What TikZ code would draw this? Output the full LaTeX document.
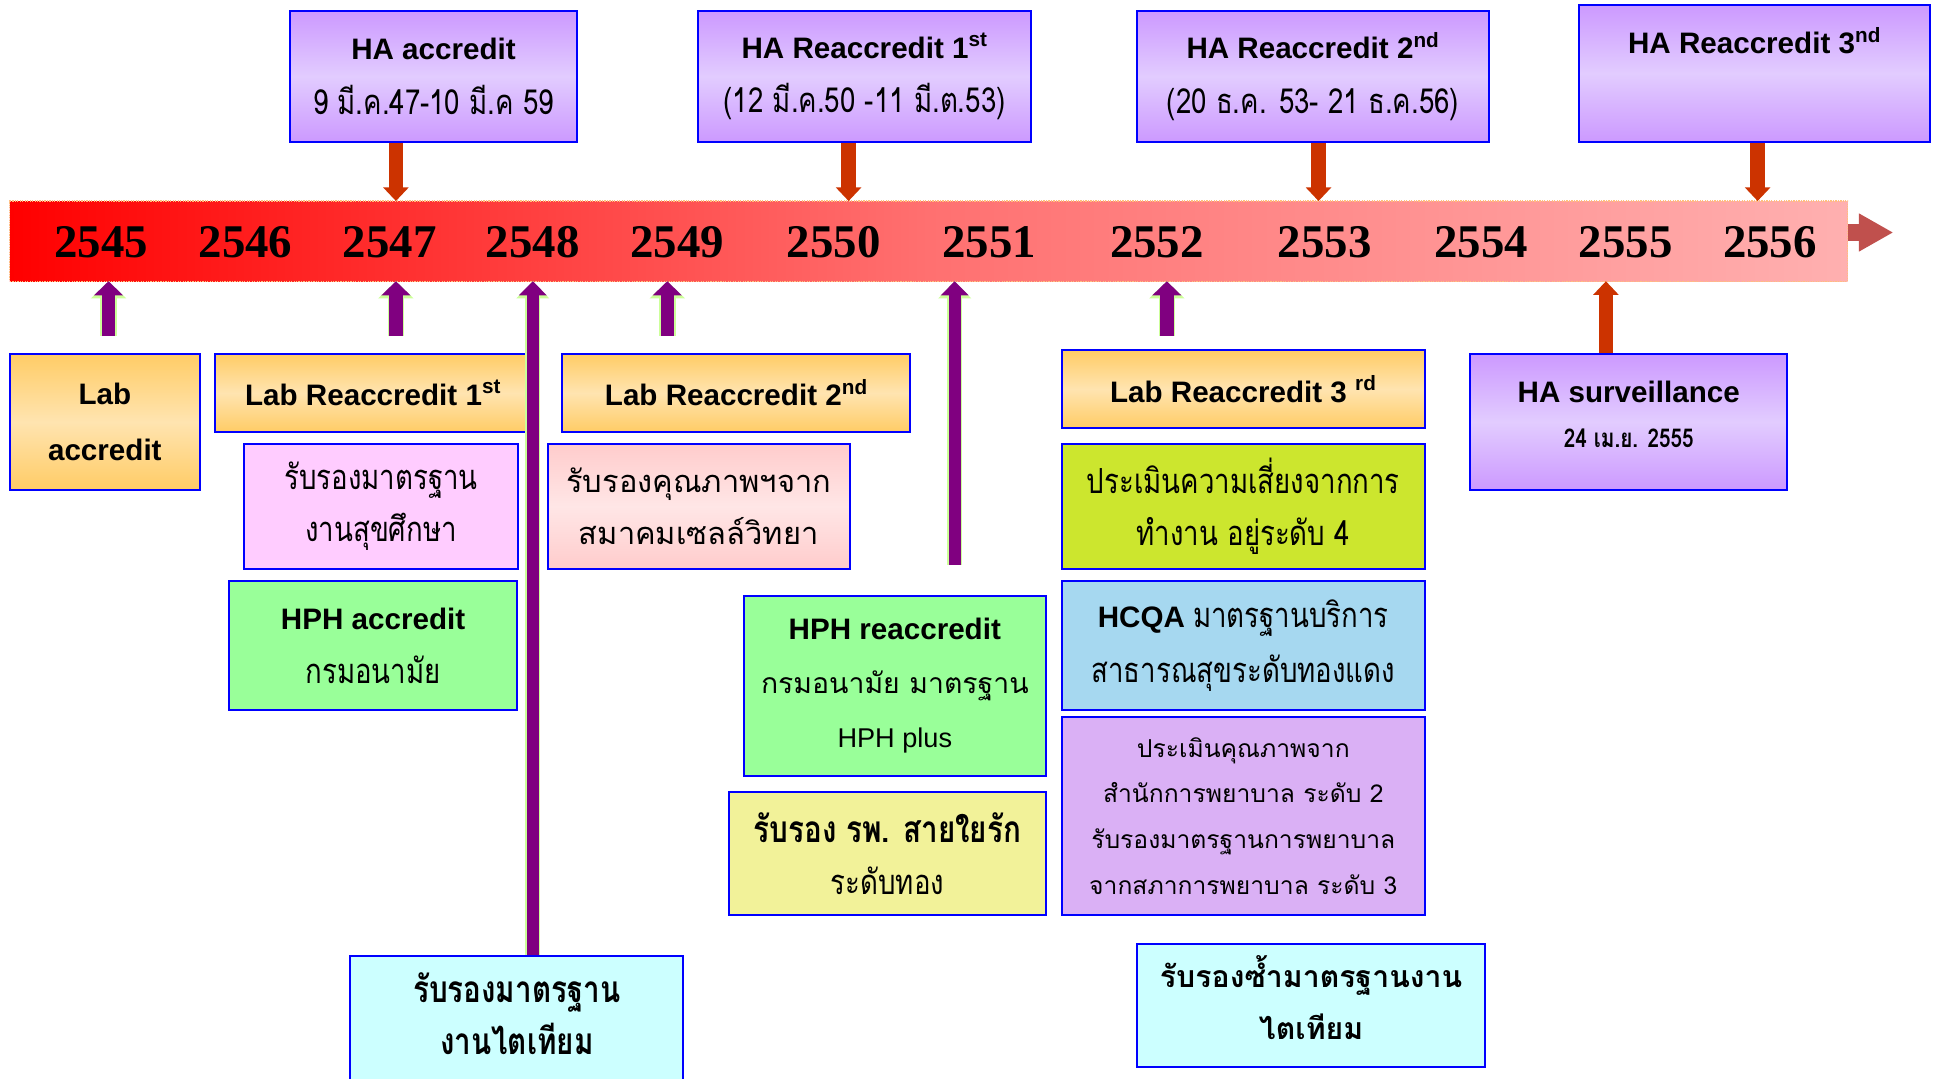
\documentclass[tikz,border=0pt]{standalone}
\usepackage{fontspec}
\setmainfont{Liberation Sans}
\newfontfamily\thaifont[Script=Thai,FakeStretch=0.8]{Loma}
\newfontfamily\thaiwide[Script=Thai]{Loma}
\newfontfamily\yearfont{Liberation Serif}
\usetikzlibrary{arrows.meta,shadings}

% colours of the slide
\definecolor{haviolet}{RGB}{204,153,255}
\definecolor{halight}{RGB}{226,204,255}
\definecolor{laborange}{RGB}{255,204,102}
\definecolor{lablight}{RGB}{255,228,176}
\definecolor{pinkedu}{RGB}{255,204,255}
\definecolor{pinkcell}{RGB}{255,204,204}
\definecolor{pinklight}{RGB}{255,230,230}
\definecolor{hphgreen}{RGB}{153,255,153}
\definecolor{kidneycyan}{RGB}{204,255,255}
\definecolor{goldyellow}{RGB}{242,242,153}
\definecolor{riskgreen}{RGB}{204,230,46}
\definecolor{hcqablue}{RGB}{166,216,240}
\definecolor{nurseviolet}{RGB}{218,176,245}
\definecolor{haarrow}{RGB}{204,51,0}
\definecolor{labarrow}{RGB}{128,0,128}
\definecolor{labedge}{RGB}{204,255,153}
\definecolor{barend}{RGB}{192,80,77}
\definecolor{barleft}{RGB}{255,0,0}
\definecolor{barmid}{RGB}{255,112,112}
\definecolor{barright}{RGB}{255,176,176}

% Thai text: narrow, narrow bold, wide
\newcommand\thn{\thaifont\fontsize{28}{42}\selectfont}
\newcommand\thb{\thaifont\bfseries\fontsize{30}{42}\selectfont}
\newcommand\thw{\thaiwide\fontsize{23}{42}\selectfont}

\begin{document}
\begin{tikzpicture}[x=1pt,y=-1pt,
  box/.style={draw=blue,line width=1.6pt,align=center,inner sep=0pt,
    font=\fontsize{24}{44}\selectfont},
  habox/.style={box,top color=haviolet,bottom color=haviolet,middle color=halight},
  labbox/.style={box,top color=laborange,bottom color=laborange,middle color=lablight},
  year/.style={font=\yearfont\bfseries\fontsize{38}{38}\selectfont},
  haarr/.style={draw=haarrow,line width=12pt,-{Triangle[width=20pt,length=11pt]}},
  labarr/.style={preaction={draw=labedge,line width=13.5pt,-{Triangle[width=28pt,length=14pt]}},
    draw=labarrow,line width=11pt,-{Triangle[width=23pt,length=11.5pt]}},
  labline/.style={preaction={draw=labedge,line width=12pt,-{Triangle[width=26pt,length=14pt]}},
    draw=labarrow,line width=10pt,-{Triangle[width=22pt,length=11.5pt]}},
  endarr/.style={draw=barend,line width=13pt,-{Triangle[width=29pt,length=28pt]}}]
  \useasboundingbox (0,0) rectangle (1568,874);
  \clip (0,0) rectangle (1568,874);

  % time bar with the years
  \node[draw=orange!50,line width=1pt,densely dotted,left color=barleft,right color=barright,
    middle color=barmid,minimum width=1490,minimum height=65,inner sep=0pt] (bar) at (753,195.5) {};
  \foreach \yr/\xx in {2545/82,2546/199,2547/316,2548/432,2549/549,2550/676,
    2551/802,2552/938,2553/1074,2554/1201,2555/1318,2556/1435}
    \node[year] (y\yr) at (\xx,196) {\yr};
  \coordinate (tip) at (1535,188.5);
  \draw[endarr] (bar.east |- tip) -- (tip);

  % HA boxes above the bar
  \node[habox,minimum width=233,minimum height=106] (haacc) at (351.5,62)
    {{\bfseries HA accredit}\\{\thn 9 มี.ค.47-10 มี.ค 59}};
  \node[habox,minimum width=270,minimum height=106] (hare1) at (701,62)
    {{\bfseries HA Reaccredit 1\textsuperscript{st}}\\{\thn (12 มี.ค.50 -11 มี.ต.53)}};
  \node[habox,minimum width=285,minimum height=106] (hare2) at (1064.5,62)
    {{\bfseries HA Reaccredit 2\textsuperscript{nd}}\\{\thn (20 ธ.ค. 53- 21 ธ.ค.56)}};
  \node[habox,minimum width=285,minimum height=111] (hare3) at (1422.5,59.5)
    {{\bfseries HA Reaccredit 3\textsuperscript{nd}}\\[10pt]\mbox{}};

  % Lab boxes below the bar
  \node[labbox,minimum width=154,minimum height=110,font=\fontsize{24}{46}\selectfont] (labacc) at (85,342)
    {{\bfseries Lab}\\{\bfseries accredit}};
  \node[labbox,minimum width=257,minimum height=63] (labre1) at (302.5,318.5)
    {\bfseries Lab Reaccredit 1\textsuperscript{st}};
  \node[labbox,minimum width=282,minimum height=63] (labre2) at (597,318.5)
    {\bfseries Lab Reaccredit 2\textsuperscript{nd}};
  \node[labbox,minimum width=294,minimum height=63] (labre3) at (1008,315.5)
    {\bfseries Lab Reaccredit 3 \textsuperscript{rd}};

  % other standards, column by column
  \node[box,fill=pinkedu,minimum width=222,minimum height=101,font=\fontsize{24}{42}\selectfont] (hedu) at (309,410.5)
    {{\thn รับรองมาตรฐาน}\\{\thn งานสุขศึกษา}};
  \node[box,fill=hphgreen,minimum width=233,minimum height=105] (hphacc) at (302.5,523.5)
    {{\bfseries HPH accredit}\\{\thn กรมอนามัย}};
  \node[box,fill=kidneycyan,minimum width=270,minimum height=136,font=\fontsize{24}{42}\selectfont] (kidney1) at (419,843)
    {{\thb รับรองมาตรฐาน}\\{\thb งานไตเทียม}\\\mbox{}};
  \node[box,top color=pinkcell,bottom color=pinkcell,middle color=pinklight,
    minimum width=245,minimum height=101,font=\fontsize{24}{42}\selectfont] (cyto) at (566.5,410.5)
    {{\thaiwide\fontsize{25}{42}\selectfont รับรองคุณภาพฯจาก}\\{\thaiwide\fontsize{25}{42}\selectfont สมาคมเซลล์วิทยา}};
  \node[box,fill=hphgreen,minimum width=245,minimum height=146] (hphre) at (725.5,556)
    {{\bfseries HPH reaccredit}\\{\thw กรมอนามัย มาตรฐาน}\\{\fontsize{22}{44}\selectfont HPH plus}};
  \node[box,fill=goldyellow,minimum width=257,minimum height=100,font=\fontsize{24}{42}\selectfont] (saiyai) at (719.5,692)
    {{\thb รับรอง รพ. สายใยรัก}\\{\thn ระดับทอง}};
  \node[box,fill=riskgreen,minimum width=294,minimum height=101,font=\fontsize{24}{42}\selectfont] (risk) at (1008,410.5)
    {{\thn ประเมินความเสี่ยงจากการ}\\{\thn ทำงาน อยู่ระดับ 4}};
  \node[box,fill=hcqablue,minimum width=294,minimum height=105] (hcqa) at (1008,523.5)
    {{\bfseries HCQA} {\thn มาตรฐานบริการ}\\{\thn สาธารณสุขระดับทองแดง}};
  \node[box,fill=nurseviolet,minimum width=294,minimum height=161,font=\thaiwide\fontsize{20}{37}\selectfont] (nurse) at (1008,661.5)
    {ประเมินคุณภาพจาก\\สำนักการพยาบาล ระดับ 2\\รับรองมาตรฐานการพยาบาล\\จากสภาการพยาบาล ระดับ 3};
  \node[box,fill=kidneycyan,minimum width=282,minimum height=100,font=\thaiwide\bfseries\fontsize{24.5}{42}\selectfont] (kidney2) at (1063,815)
    {รับรองซ้ำมาตรฐานงาน\\ไตเทียม\\[-30pt]\mbox{}};
  \node[habox,minimum width=257,minimum height=110,font=\fontsize{24}{37}\selectfont] (hasurv) at (1320.5,342)
    {{\bfseries HA surveillance}\\{\thaifont\bfseries\fontsize{21}{37}\selectfont 24 เม.ย. 2555}\\[-25pt]\mbox{}};

  % where the arrows meet the bar
  \coordinate (p47) at (321,163);
  \coordinate (p50) at (688,163);
  \coordinate (p53) at (1069,163);
  \coordinate (p56) at (1425,163);
  \coordinate (q45) at (88,228);
  \coordinate (q47) at (321,228);
  \coordinate (q48) at (432,228);
  \coordinate (q49) at (541,228);
  \coordinate (q51) at (774,228);
  \coordinate (q52) at (946,228);
  \coordinate (q55) at (1302,228);
  \coordinate (e51) at (774,458);

  % HA arrows
  \draw[haarr] (haacc.south -| p47) -- (p47);
  \draw[haarr] (hare1.south -| p50) -- (p50);
  \draw[haarr] (hare2.south -| p53) -- (p53);
  \draw[haarr] (hare3.south -| p56) -- (p56);
  \draw[haarr] (hasurv.north -| q55) -- (q55);

  % Lab arrows
  \draw[labarr] ([yshift=14pt]labacc.north -| q45) -- (q45);
  \draw[labarr] ([yshift=14pt]labre1.north -| q47) -- (q47);
  \draw[labarr] ([yshift=14pt]labre2.north -| q49) -- (q49);
  \draw[labarr] ([yshift=11pt]labre3.north -| q52) -- (q52);
  \draw[labline] (kidney1.north -| q48) -- (q48);
  \draw[labline] (e51) -- (q51);
\end{tikzpicture}
\end{document}
